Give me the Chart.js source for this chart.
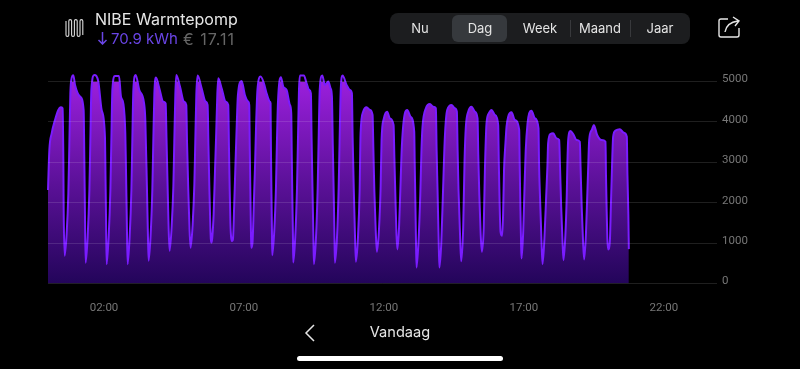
<!DOCTYPE html>
<html><head><meta charset="utf-8">
<style>
html,body{margin:0;padding:0;background:#000;width:800px;height:369px;overflow:hidden}
body{position:relative;font-family:Inter,Roboto,sans-serif}
canvas{position:absolute;left:0;top:0}
.t{position:absolute;white-space:nowrap;line-height:1}
.seg{position:absolute;left:390px;top:13px;width:300px;height:31px;background:#1c1d1f;border-radius:8px}
.sel{position:absolute;left:452px;top:14.5px;width:55px;height:27.5px;background:#36393d;border-radius:6px}
.div{position:absolute;top:20px;width:1px;height:17px;background:#38393c}
.lbl{position:absolute;top:22px;width:60px;text-align:center;font-size:13px;line-height:1;color:#e4e4e4}
.bar{position:absolute;left:297px;top:356px;width:206px;height:5px;border-radius:3px;background:#fff}
svg{position:absolute}
</style></head>
<body>
<canvas id="c" width="800" height="369"></canvas>
<svg style="left:64px;top:17px" width="24" height="22" viewBox="0 0 24 22" fill="none" stroke="#dcdcdc" stroke-width="1.1">
<path d="M2 4V18a1.4 1.4 0 0 0 2.8 0V4a1.4 1.4 0 0 1 2.8 0V18a1.4 1.4 0 0 0 2.8 0V4a1.4 1.4 0 0 1 2.8 0V18a1.4 1.4 0 0 0 2.8 0V4a1.4 1.4 0 0 1 2.8 0V18"/></svg>
<div class="t" style="left:95px;top:11px;font-size:16px;color:#e6e6e6">NIBE Warmtepomp</div>
<svg style="left:96px;top:31px" width="13" height="14" viewBox="0 0 13 14" fill="none" stroke="#6a45e6" stroke-width="1.5"><path d="M6.5 1V13M2.5 9L6.5 13L10.5 9"/></svg>
<div class="t" style="left:111px;top:31px;font-size:15px;color:#6a45e6">70.9 kWh</div>
<div class="t" style="left:183px;top:30.5px;font-size:16px;letter-spacing:1px;color:#666">€ 17.11</div>
<div class="seg"></div><div class="sel"></div>
<div class="div" style="left:570px"></div><div class="div" style="left:630px"></div>
<div class="lbl" style="left:390px">Nu</div>
<div class="lbl" style="left:450px">Dag</div>
<div class="lbl" style="left:510px">Week</div>
<div class="lbl" style="left:570px">Maand</div>
<div class="lbl" style="left:630px">Jaar</div>
<svg style="left:716px;top:15px" width="26" height="24" viewBox="0 0 26 24" fill="none" stroke="#e6e6e6" stroke-width="1.4">
<path d="M12 4H5a2 2 0 0 0-2 2V20a2 2 0 0 0 2 2H21a2 2 0 0 0 2-2V13"/><path d="M9 17C10 11 14 7 22 6M17 2L23 6L19 11"/></svg>
<svg style="left:303px;top:323px" width="14" height="20" viewBox="0 0 14 20" fill="none" stroke="#e6e6e6" stroke-width="1.5"><path d="M11 2L3 10L11 18"/></svg>
<div class="t" style="left:340px;width:120px;text-align:center;top:325px;font-size:14.6px;color:#e6e6e6">Vandaag</div>
<div class="bar"></div>
<script src="https://cdn.jsdelivr.net/npm/chart.js@4"></script>
<script>
const minutes = [
0,2.9,7.9,15,22.2,27.1,31.4,32.9,33.6,35.7,
40,43.6,45.7,47.9,50,54.3,57.9,68.6,76.4,77.9,79.3,80.7,
85,88.7,90.7,93,99.3,107.9,115,122.2,123.3,124.5,125.7,
130,133.7,135.7,138,143.6,152.2,156.4,161.4,165.7,167.2,169,170.7,
175,178.7,180.7,183,187.9,195.7,205.7,208.6,212,214,215.7,
220,223.7,225.7,228,231.4,238.6,247.1,252.2,254,256,258.5,260.7,
265,268.7,270.7,273,275,282.9,291.4,296.4,298,300.5,303.5,305.7,
310,313.7,315.7,318,320.7,329.3,337.9,342.1,344,346,348,349,350.5,
352,355,358,360.5,363,365,372.2,380.8,386.4,388,389.5,391,392.5,395,
396.5,399,402,404.5,407,415,422,429.3,431.4,432.5,433.8,435,435.7,
438.5,441,444,446,449,455.7,462.8,468.5,475.7,477.1,477.9,479,480,480.7,
485,488.7,490.7,493,499.3,504.3,511.4,518.5,521.4,522.5,523.8,525,525.7,
530,533.7,535.7,538,540,548.5,554.3,560,563.5,565,567,568.8,570,
574.5,578,580,582.5,587.8,593.5,600.7,605.7,608.6,610.5,612.5,614,615,
619.5,623,625,627.5,631.4,640,647.1,651.4,653,655.5,658,660,
664.5,668,670,675.7,682.8,690,695.7,697.5,699.5,702.5,705,
709.5,713,715,720,727,732.8,740.7,742.5,744.5,747,749,
752.5,755.5,758.5,765,770,777,785,786,787.5,788.8,790,
794,798,800.5,802.8,810,818.6,825.7,831.4,833,835,837.5,839,
843,846.5,850.7,855.7,865,872,876.4,878,880,883.5,885.7,
890,892.9,895.7,900.7,907.9,915,920.7,922.3,924.5,927.5,930,
934,936.5,940,945,950.7,957.9,965,966.3,968,970,973.6,
975.5,977.5,980.7,982.9,986.4,993.6,1000.7,1010,1011,1012.5,1014,1015,
1018.5,1021.5,1024,1027.9,1031.4,1036.4,1043.6,1051.4,1052.5,1055,1058,1060,
1064,1068,1070.5,1072,1077,1082.9,1090,1095.7,1097.5,1100,1103,1105,
1109,1112,1113,1115,1120,1125.7,1132.9,1140,1141.5,1144,1147,1149.3,
1153,1156,1158,1160,1165.7,1170,1177.1,1186.4,1195,1196,1197.5,1199,1200.7,
1204.3,1206.5,1209,1211.4,1216.4,1225.7,1234.3,1240.7,1242,1244,1245
];
const watts = [
2313,3304,3717,4047,4295,4361,4336,3056,1817,686,
1240,2230,3400,4700,5040,5154,4915,4626,4295,3056,1652,512,
1150,2300,3500,4800,5163,4997,4295,3593,2600,1500,479,
1150,2300,3500,4800,5138,5138,4626,4460,3717,2800,1500,479,
1150,2300,3500,4800,5163,4791,4477,4047,2400,1300,562,
1200,2350,3500,4700,5096,4832,4502,4460,3600,2600,1400,809,
1400,2400,3500,4700,5163,4873,4502,4419,3500,2400,1300,884,
1450,2450,3500,4700,5146,4832,4502,4419,3400,2300,1400,1100,1008,
1120,1700,2800,3700,4700,5080,4832,4502,4419,3300,2300,1500,1150,1049,
1100,1900,3000,3900,4650,5014,4667,4502,4419,3300,2200,1300,884,
1030,1900,3000,3900,4800,5121,4956,4708,4502,4460,3300,2200,1300,702,
1300,2400,3500,4500,5105,4873,4791,4419,4213,3200,2100,1200,520,
1150,2350,3500,4800,5146,5146,4956,4791,4708,3600,2300,1200,479,
1150,2350,3500,4800,5146,4915,4997,4832,4626,3400,2200,1200,512,
1150,2350,3500,4800,5146,4915,4791,4708,3600,2300,1200,537,
1150,2300,3717,4254,4361,4295,4171,3300,2300,1300,785,
1350,2400,3552,4089,4254,4089,3923,3100,2200,1200,843,
1400,2400,3400,4213,4295,4130,3758,3000,2000,1000,396,
1000,2200,3300,3882,4337,4444,4378,4337,3300,2300,1000,396,
1000,2200,3634,4295,4419,4337,4254,3300,2300,1100,553,
1400,3050,3882,4254,4378,4254,4089,3200,2200,1200,785,
1400,2800,3965,4213,4295,4171,3923,3000,2000,1280,1181,
1700,2800,3500,3882,4130,4237,4047,3800,3000,1900,1000,620,
1250,2400,3300,3965,4213,4279,4089,3841,3000,2000,1000,479,
1100,2200,2900,3469,3700,3717,3593,3552,2900,1900,1000,578,
1200,2200,2800,3552,3775,3700,3552,3510,2900,1900,1000,595,
1200,2200,2900,3552,3800,3923,3676,3552,3510,2700,1800,1100,843,
1033,1900,2900,3634,3783,3816,3734,3634,2700,1700,851
];
const xTickMinutes = [120,420,720,1020,1320];
const xTickLabels = ['02:00','07:00','12:00','17:00','22:00'];
const yTickValues = [0,1000,2000,3000,4000,5000];

new Chart(document.getElementById('c'), {
  type: 'line',
  data: { datasets: [{
    data: minutes.map((m,i)=>({x:m,y:watts[i]})),
    borderColor: '#7a1cff',
    borderWidth: 2,
    pointRadius: 0,
    cubicInterpolationMode: 'monotone',
    clip: false,
    fill: 'origin',
    backgroundColor: ctx => {
      const a = ctx.chart.chartArea;
      if (!a) return '#4a0f90';
      const g = ctx.chart.ctx.createLinearGradient(0,a.top,0,a.bottom);
      g.addColorStop(0,'#9a1fdc');
      g.addColorStop(0.5,'#5c1199');
      g.addColorStop(1,'#23055a');
      return g;
    }
  }]},
  options: {
    responsive:false, animation:false,
    layout:{padding:{left:48,top:81.5,right:0,bottom:0}},
    plugins:{legend:{display:false},tooltip:{enabled:false}},
    scales:{
      x:{type:'linear',min:0,max:1434,
        afterFit(s){s.height=85.5},
        afterBuildTicks(s){s.ticks=xTickMinutes.map(v=>({value:v}))},
        grid:{display:false},border:{display:false},
        ticks:{color:'#777',font:{family:'Roboto',size:11.5},padding:10,maxRotation:0,autoSkip:false,
          callback:v=>xTickLabels[xTickMinutes.indexOf(v)]}},
      y:{position:'right',min:0,max:5000,
        afterFit(s){s.width=83},
        afterBuildTicks(s){s.ticks=yTickValues.map(v=>({value:v}))},
        grid:{color:'rgba(255,255,255,0.12)',lineWidth:1,drawTicks:false,z:1},border:{display:false},
        ticks:{color:'#777',font:{family:'Roboto',size:11.5},padding:5,labelOffset:-2,crossAlign:'near',callback:v=>String(v)}}
    }
  }
});
</script>
</body></html>
